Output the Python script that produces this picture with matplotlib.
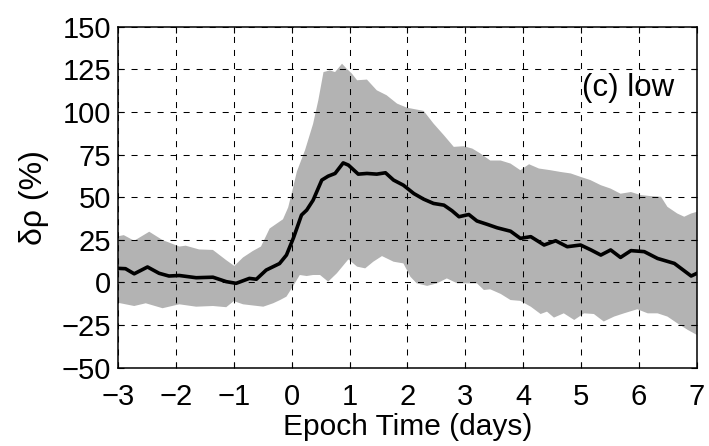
import numpy as np
from matplotlib import pyplot as plt

plt.rcParams['font.family'] = ['Liberation Sans', 'DejaVu Sans']

# superposed epoch mean of density change and its spread
mean_days = [-3.0, -2.87, -2.72, -2.49, -2.29, -2.12, -1.94, -1.65, -1.36, -1.13,
             -0.96, -0.73, -0.61, -0.44, -0.21, -0.09, 0.03, 0.17, 0.26, 0.37,
             0.52, 0.63, 0.75, 0.89, 0.98, 1.15, 1.30, 1.47, 1.62, 1.76,
             1.93, 2.11, 2.28, 2.45, 2.63, 2.77, 2.89, 3.06, 3.20, 3.38,
             3.55, 3.78, 3.95, 4.13, 4.36, 4.56, 4.76, 4.99, 5.17, 5.34,
             5.51, 5.68, 5.86, 6.09, 6.32, 6.61, 6.90, 7.0]
mean = [8.2, 8, 5, 9, 5.3, 3.7, 4, 2.7, 3, 0.4,
        -0.6, 2.3, 1.8, 7.2, 11, 16, 26, 39.5, 42.4, 48.2,
        60, 62.3, 63.9, 70.1, 68.8, 63.5, 63.9, 63.5, 64.3, 60,
        57, 52.1, 48.8, 46.3, 45.3, 42, 38.5, 39.8, 36, 34,
        32, 30, 25.8, 26.8, 21.9, 24.4, 20.9, 21.9, 19, 16,
        19, 14.6, 18.6, 18, 14, 11.1, 3.7, 5.3]

upper_days = [-3.0, -2.90, -2.72, -2.46, -2.23, -1.94, -1.83, -1.60, -1.36, -1.13,
              -0.99, -0.84, -0.67, -0.53, -0.38, -0.15, -0.06, 0.02, 0.09, 0.23,
              0.37, 0.46, 0.55, 0.66, 0.75, 0.87, 0.95, 1.04, 1.13, 1.30,
              1.47, 1.64, 1.82, 1.99, 2.16, 2.28, 2.45, 2.63, 2.80, 2.97,
              3.12, 3.26, 3.43, 3.61, 3.78, 3.95, 4.10, 4.27, 4.47, 4.64,
              4.82, 4.99, 5.16, 5.34, 5.51, 5.68, 5.86, 6.03, 6.20, 6.38,
              6.49, 6.66, 6.78, 6.90, 7.0]
upper = [27, 27.7, 24.4, 29.7, 24.8, 21, 21.5, 19.3, 19, 13,
         9.6, 14.6, 18.4, 21, 31.6, 37, 44, 55, 65, 77.5,
         93, 106.8, 123.4, 124.4, 123.4, 128.3, 125.4, 122.5, 118.6, 119,
         112.7, 109.8, 104.9, 102.5, 101.4, 100.6, 93.2, 86.3, 79.5, 79.9,
         78.5, 75.6, 71.5, 71.5, 69.7, 65.8, 69.3, 66.8, 65.8, 64.8,
         63.9, 61.9, 60, 57, 55, 52, 53, 51.2, 50.6, 50.2,
         44.3, 40.4, 38.5, 40.4, 41.4]

lower_days = [-3.0, -2.72, -2.52, -2.23, -1.94, -1.65, -1.36, -1.13, -1.0, -0.84,
              -0.49, -0.32, -0.2, -0.09, 0.02, 0.14, 0.26, 0.37, 0.49, 0.63,
              0.78, 0.98, 1.13, 1.27, 1.41, 1.56, 1.76, 1.93, 2.05, 2.16,
              2.34, 2.51, 2.68, 2.86, 3.03, 3.20, 3.32, 3.43, 3.61, 3.78,
              3.95, 4.13, 4.30, 4.41, 4.53, 4.70, 4.88, 5.05, 5.22, 5.39,
              5.57, 5.74, 5.97, 6.15, 6.32, 6.49, 6.66, 6.84, 7.0]
lower = [-12, -13.9, -12.3, -15.2, -12.9, -14.3, -13.9, -14.6, -11, -12.9,
         -14.3, -12.3, -10.4, -8.4, -2.5, 4.3, 3.7, 4.3, 4.3, 0.4,
         5.3, 13.5, 9.2, 8.2, 12.1, 15.4, 12.1, 11.1, 3.3, -0.6,
         -2.1, -0.6, 2.3, -0.6, -0.6, -0.6, -4.5, -4.1, -6.8, -10.4,
         -10.9, -14.3, -18.6, -17.2, -20.7, -18.2, -22.1, -18.2, -18.6, -23,
         -20.1, -18.2, -15.8, -18.2, -18.2, -20.1, -24, -27.9, -30.9]

fig = plt.figure(figsize=(7.09, 4.46), dpi=100)
ax = fig.add_axes([0.1664, 0.176, 0.8166, 0.764])

band_x = np.concatenate([upper_days, lower_days[::-1]])
band_y = np.concatenate([upper, lower[::-1]])
ax.fill(band_x, band_y, color='#b3b3b3', lw=0, zorder=1)
ax.plot(mean_days, mean, color='black', lw=2.6, zorder=3)

ax.set_xlim(-3, 7)
ax.set_ylim(-50, 150)
ax.set_xticks(range(-3, 8))
ax.set_yticks(range(-50, 151, 25))
ax.grid(True, color='black', lw=0.75, linestyle=(0, (5.8, 6.7)), zorder=2)
ax.set_axisbelow(False)
ax.tick_params(direction='in', length=4, width=0.8, top=True, right=True,
               labelsize=21)
ax.tick_params(axis='x', pad=11.5)
ax.tick_params(axis='y', pad=5)
for s in ax.spines.values():
    s.set_linewidth(1.1)
    s.set_zorder(4)

ax.set_xlabel('Epoch Time (days)', fontsize=21.5, labelpad=1)
ax.set_ylabel('δρ (%)', fontsize=23, labelpad=9)
ax.text(5.02, 114, '(c) low', fontsize=22.5, va='center', ha='left')

fig.savefig('out.png', dpi=100)
